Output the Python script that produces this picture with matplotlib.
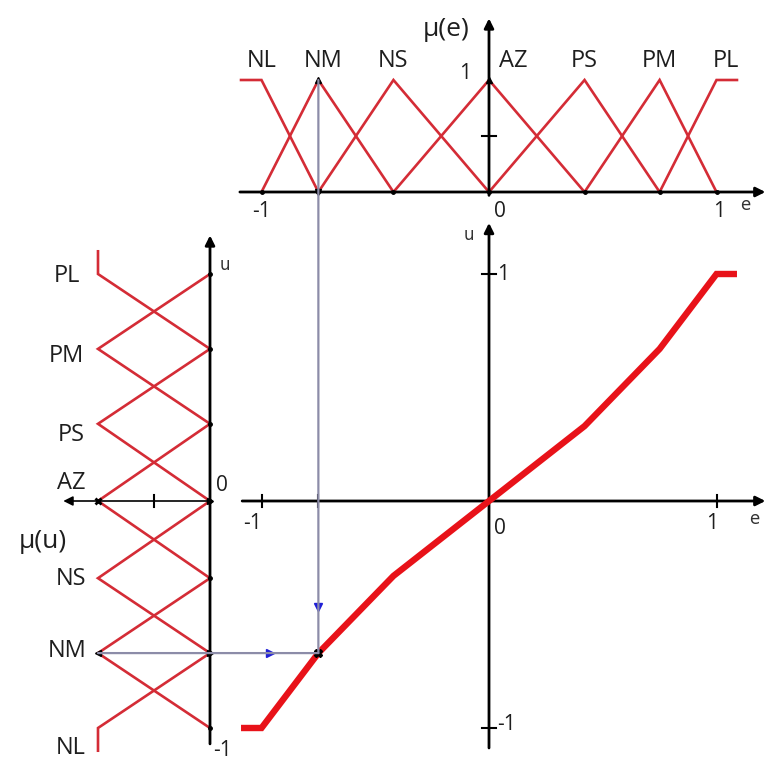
import matplotlib
matplotlib.use('Agg')
import matplotlib.pyplot as plt
from matplotlib.patches import ConnectionPatch

W, H = 766, 760

# Fuzzy sets for the error e (top) and the output u (left)
set_names = ['NL', 'NM', 'NS', 'AZ', 'PS', 'PM', 'PL']
e_centres = [-1.0, -0.75, -0.42, 0.0, 0.42, 0.75, 1.0]
u_centres = [-1.0, -0.67, -0.34, 0.0, 0.34, 0.67, 1.0]
e_span = 1.09      # shoulders of NL / PL on e
u_span = 1.10      # shoulders of NL / PL on u

# Resulting control characteristic u(e)
curve_e = [-1.09, -1.0, -0.75, -0.42, 0.0, 0.42, 0.75, 1.0, 1.09]
curve_u = [-1.0, -1.0, -0.67, -0.33, 0.0, 0.33, 0.67, 1.0, 1.0]

# Worked example: e = NM gives u = NM
pick = 1

RED = '#d42c36'
CURVE = '#e81219'
GUIDE = '#8c8ca8'
BLUE = '#1f1fd6'
INK = '#1e1e1e'
LABEL_FONT = ['Open Sans', 'DejaVu Sans']


def overlay(fig, x0, xs, y0, ys):
    """Full-figure axes where pixel (x0, y0) is the origin and xs/ys are px per unit."""
    ax = fig.add_axes([0, 0, 1, 1])
    ax.set_xlim((0 - x0) / xs, (W - x0) / xs)
    ax.set_ylim((y0 - H) / ys, y0 / ys)
    ax.patch.set_alpha(0)
    ax.axis('off')
    return ax


def membership(centres, span):
    """Polylines (x, mu) for each set: shoulders at the ends, triangles inside."""
    out = []
    n = len(centres)
    for i, c in enumerate(centres):
        if i == 0:
            xs, ms = [-span, c, centres[1]], [1, 1, 0]
        elif i == n - 1:
            xs, ms = [centres[-2], c, span], [0, 1, 1]
        else:
            xs, ms = [centres[i - 1], c, centres[i + 1]], [0, 1, 0]
        out.append((xs, ms))
    return out


def arrow(ax, start, end, lw=2.0):
    ax.annotate('', xy=end, xytext=start,
                arrowprops=dict(arrowstyle='-|>', lw=lw, color='black',
                                mutation_scale=14, shrinkA=0, shrinkB=0))


def label(ax, x, y, s, size=15, family=LABEL_FONT, color=INK):
    ax.text(x, y, s, ha='center', va='center', fontsize=size,
            family=family, color=color)


fig = plt.figure(figsize=(W / 100, H / 100), dpi=100)
fig.patch.set_facecolor('white')

ax_top = overlay(fig, 489, 227.5, 192, 112)
ax_main = overlay(fig, 489, 227.5, 501, 227)
ax_left = overlay(fig, 210, -112, 501, 227)

# --- top panel: mu(e) ---
for xs, ms in membership(e_centres, e_span):
    ax_top.plot(xs, ms, color=RED, lw=1.9, solid_joinstyle='miter', zorder=2)
arrow(ax_top, (-1.095, 0), (1.215, 0))
arrow(ax_top, (0, -0.03), (0, 1.55))
ax_top.plot(e_centres, [0] * len(e_centres), 'o', color='black', ms=2.5, zorder=4)
ax_top.plot([-0.03, 0.03], [0.5, 0.5], color='black', lw=1.5)
ax_top.plot([0], [1], marker='^', color='black', ms=5, zorder=4)
for name, c in zip(set_names, e_centres):
    dx = {'AZ': 0.105, 'PL': 0.04, 'NM': 0.02}.get(name, 0)
    label(ax_top, c + dx, 1.17, name, size=17)
label(ax_top, -0.19, 1.45, 'μ(e)', size=19)
label(ax_top, -0.105, 1.06, '1')
label(ax_top, -1.0, -0.17, '-1')
label(ax_top, 0.05, -0.17, '0')
label(ax_top, 1.01, -0.17, '1')
label(ax_top, 1.125, -0.12, 'e', size=12, family='DejaVu Sans', color='#333333')

# --- left panel: mu(u), rotated ---
for us, ms in membership(u_centres, u_span):
    ax_left.plot(ms, us, color=RED, lw=1.9, solid_joinstyle='miter', zorder=2)
arrow(ax_left, (0, -1.07), (0, 1.17))
arrow(ax_left, (0, 0), (1.31, 0), lw=1.2)
ax_left.plot([0] * len(u_centres), u_centres, 'o', color='black', ms=2.5, zorder=4)
ax_left.plot([0.5, 0.5], [-0.025, 0.025], color='black', lw=1.5)
ax_left.plot([1], [0], marker='x', color='black', ms=5, mew=2, zorder=4)
ax_left.plot([0], [0], marker='>', color='black', ms=5, zorder=4)
label_shift = {'PL': -0.01, 'PM': -0.03, 'PS': -0.05, 'AZ': 0.08,
               'NS': -0.005, 'NM': 0.01, 'NL': -0.09}
for name, c in zip(set_names, u_centres):
    dx = 0.04 if name in ('PS', 'NS', 'AZ', 'NL') else 0.0
    label(ax_left, 1.28 - dx, c + label_shift[name], name, size=17)
label(ax_left, 1.49, -0.18, 'μ(u)', size=19)
label(ax_left, -0.13, 1.04, 'u', size=12, family='DejaVu Sans', color='#333333')
label(ax_left, -0.11, 0.07, '0')
label(ax_left, -0.11, -1.1, '-1')

# --- main panel: u(e) ---
arrow(ax_main, (-1.085, 0), (1.215, 0))
arrow(ax_main, (0, -1.088), (0, 1.225))
for t in [-1.0, e_centres[pick], 1.0]:
    ax_main.plot([t, t], [-0.025, 0.025], color='black', lw=1.5)
for t in [-1.0, 1.0]:
    ax_main.plot([-0.03, 0.03], [t, t], color='black', lw=1.5)
ax_main.plot(curve_e, curve_u, color=CURVE, lw=4.6, solid_joinstyle='miter',
             solid_capstyle='butt', zorder=3)
label(ax_main, -1.04, -0.1, '-1')
label(ax_main, 0.05, -0.12, '0')
label(ax_main, 0.98, -0.1, '1')
label(ax_main, 1.165, -0.08, 'e', size=12, family='DejaVu Sans', color='#333333')
label(ax_main, -0.09, 1.17, 'u', size=12, family='DejaVu Sans', color='#333333')
label(ax_main, 0.06, 1.0, '1')
label(ax_main, 0.075, -0.985, '-1')

# --- inference guide lines ---
e_pick = e_centres[pick]
u_pick = u_centres[pick]
vline = ConnectionPatch(xyA=(e_pick, 1.0), coordsA=ax_top.transData,
                        xyB=(e_pick, u_pick), coordsB=ax_main.transData,
                        color=GUIDE, lw=1.6, zorder=1)
hline = ConnectionPatch(xyA=(1.0, u_pick), coordsA=ax_left.transData,
                        xyB=(e_pick, u_pick), coordsB=ax_main.transData,
                        color=GUIDE, lw=1.6, zorder=1)
fig.add_artist(vline)
fig.add_artist(hline)
ax_main.plot([e_pick], [-0.467], marker='v', color=BLUE, ms=6, zorder=4)
ax_main.plot([-0.963], [u_pick], marker='>', color=BLUE, ms=6, zorder=4)
ax_top.plot([e_pick], [1.0], marker='^', color='black', ms=5, zorder=4)
ax_top.plot([e_pick], [0.0], marker='v', color='black', ms=5, zorder=4)
ax_left.plot([1.0], [u_pick], marker='<', color='black', ms=5, zorder=4)
ax_left.plot([0.0], [u_pick], marker='>', color='black', ms=5, zorder=4)
ax_main.plot([e_pick], [u_pick], marker='X', color='black', ms=6, zorder=5)

fig.savefig('out.png', dpi=100, facecolor='white')
